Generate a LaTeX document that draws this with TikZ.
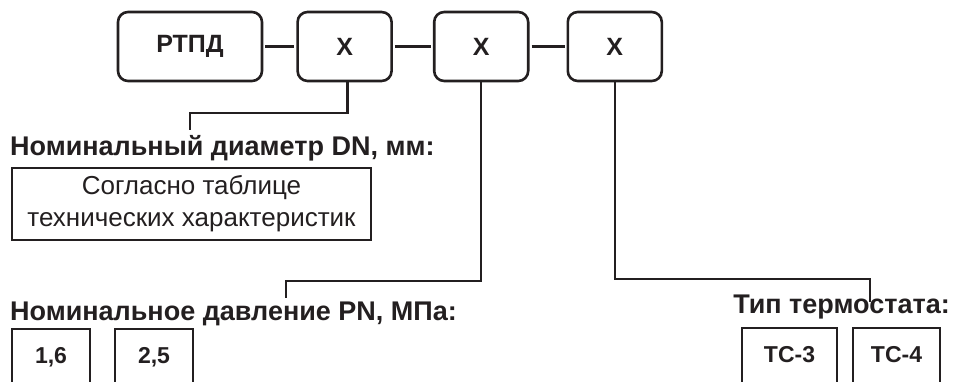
\documentclass[tikz,border=0pt]{standalone}
\usepackage{fontspec}
\setmainfont{Liberation Sans}
\usetikzlibrary{positioning}
\definecolor{ink}{HTML}{231F20}

\begin{document}
\begin{tikzpicture}[x=1pt, y=1pt, color=ink, font=\fontsize{26}{32}\selectfont,
    topbox/.style={draw, rounded corners=10pt, line width=2.6pt, minimum height=69pt, font=\fontsize{25}{30}\selectfont\bfseries},
    head/.style={inner sep=0pt, font=\fontsize{27}{32}\selectfont\bfseries},
    optbox/.style={draw, line width=2.2pt, anchor=north, inner xsep=0pt, inner ysep=17pt, text height=17pt, text depth=40pt, font=\fontsize{23}{27}\selectfont\bfseries},
    link/.style={line width=2.3pt}]
  \useasboundingbox (0,0) rectangle (955,381);
  \clip (0,0) rectangle (955,381);
  % top row
  \node[topbox, minimum width=144pt] (rtpd) at (190,334.5) {РТПД};
  \node[topbox, minimum width=94pt, right=33pt of rtpd] (x1) {X};
  \node[topbox, minimum width=94pt, right=40pt of x1] (x2) {X};
  \node[topbox, minimum width=94pt, right=37pt of x2] (x3) {X};
  \draw[link, shorten <=2pt, shorten >=2pt] (rtpd) -- (x1);
  \draw[link, shorten <=2pt, shorten >=2pt] (x1) -- (x2);
  \draw[link, shorten <=2pt, shorten >=2pt] (x2) -- (x3);
  % diameter
  \node[head, anchor=base west] (dn) at (10,226) {Номинальный диаметр DN, мм:};
  \node[draw, line width=2.2pt, minimum width=359pt, minimum height=72pt, align=center] (dntab) at (191.5,177)
    {Согласно таблице\\технических характеристик};
  \coordinate (dntip) at (190,251);
  \draw[link] ([xshift=3pt]x1.south) -- ++(0,-31) -| (dntip);
  % pressure
  \node[head, anchor=base west] (pn) at (10,61) {Номинальное давление PN, МПа:};
  \node[optbox, minimum width=78pt] (pn16) at (51,53) {1,6};
  \node[optbox, minimum width=78pt] (pn25) at (154,53) {2,5};
  \coordinate (pntip) at (286,83);
  \draw[link] (x2.south) -- ++(0,-199) -| (pntip);
  % thermostat
  \node[head, anchor=base east] (tt) at (950,68) {Тип термостата:};
  \node[optbox, minimum width=95pt] (tc3) at (789.5,54) {ТС-3};
  \node[optbox, minimum width=87pt] (tc4) at (896.5,54) {ТС-4};
  \coordinate (tttip) at (870,79);
  \draw[link] (x3.south) -- ++(0,-197) -| (tttip);
\end{tikzpicture}
\end{document}
